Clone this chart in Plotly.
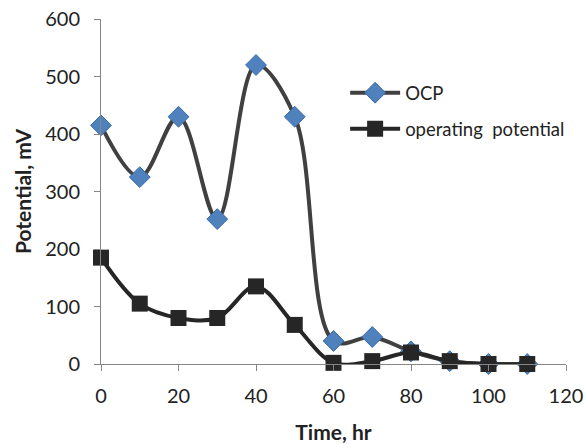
import plotly.graph_objects as go

time_hr = [0, 10, 20, 30, 40, 50, 60, 70, 80, 90, 100, 110]
ocp = [415, 325, 430, 252, 520, 430, 40, 47, 22, 5, 0, 0]
operating = [185, 105, 80, 80, 135, 68, 2, 5, 20, 5, 0, 0]

fig = go.Figure()
fig.add_trace(go.Scatter(
    x=time_hr, y=ocp, name="OCP", mode="lines+markers", legendgroup="a",
    line=dict(color="#404040", width=4, shape="spline", smoothing=1),
    marker=dict(symbol="diamond", size=16, color="#4F81BD",
                line=dict(color="#3A6BA5", width=1)),
    cliponaxis=False,
))
fig.add_trace(go.Scatter(
    x=time_hr, y=operating, name="operating  potential", mode="lines+markers",
    legendgroup="b",
    line=dict(color="#262626", width=4, shape="spline", smoothing=1),
    marker=dict(symbol="square", size=16, color="#262626"),
    cliponaxis=False,
))

fig.update_layout(
    width=586, height=444,
    margin=dict(l=101, r=20, t=19, b=80),
    paper_bgcolor="white", plot_bgcolor="white",
    font=dict(family="Lato, Open Sans, sans-serif", size=20, color="#222222"),
    showlegend=True,
    legend=dict(x=0.525, y=0.84, xanchor="left", yanchor="top",
                bgcolor="rgba(0,0,0,0)", font=dict(size=18.5), itemwidth=50,
                tracegroupgap=9),
    xaxis=dict(range=[0, 120], tickvals=[0, 20, 40, 60, 80, 100, 120],
               showgrid=False, zeroline=False, showline=True, linecolor="#868686",
               linewidth=1, ticks="outside", ticklen=6, tickcolor="#868686",
               automargin=False, ticklabeloverflow="allow", ticklabelstandoff=8,
               title=dict(text="<b>Time, hr</b>", font=dict(size=21), standoff=26)),
    yaxis=dict(range=[0, 600], tickvals=[0, 100, 200, 300, 400, 500, 600],
               showgrid=False, zeroline=False, showline=True, linecolor="#868686",
               linewidth=1, ticks="outside", ticklen=6, tickcolor="#868686",
               automargin=False, ticklabeloverflow="allow", ticklabelstandoff=10,
               title=dict(text="<b>Potential, mV</b>", font=dict(size=21), standoff=7)),
)

fig.write_html(
    "out.html",
    config={"displayModeBar": False},
    post_script="document.body.style.margin='0';document.body.style.overflow='hidden';",
)
